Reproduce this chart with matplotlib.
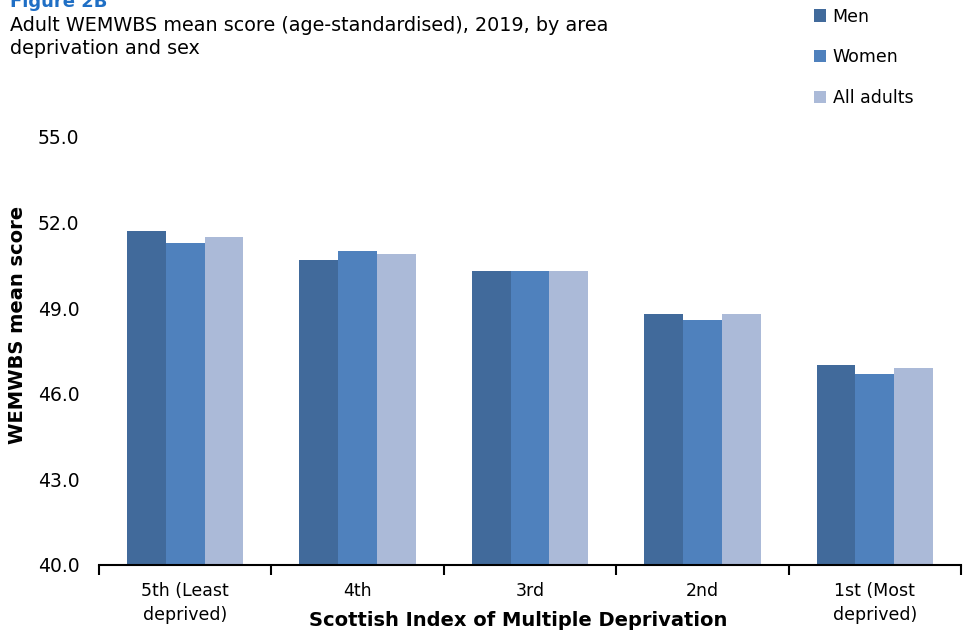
import matplotlib.pyplot as plt
import numpy as np

categories = ['5th (Least\ndeprived)', '4th', '3rd', '2nd', '1st (Most\ndeprived)']
series = ['Men', 'Women', 'All adults']
men = [51.7, 50.7, 50.3, 48.8, 47.0]
women = [51.3, 51.0, 50.3, 48.6, 46.7]
all_adults = [51.5, 50.9, 50.3, 48.8, 46.9]
colors = ['#416a9b', '#4f81bd', '#abbad8']

plt.rcParams['font.family'] = ['DejaVu Sans']

fig = plt.figure(figsize=(9.64, 6.33), dpi=100)
ax = fig.add_axes([99/964, 1 - 565/633, 862/964, 428/633])

x = np.arange(len(categories))
w = 0.225
for i, (vals, name) in enumerate(zip([men, women, all_adults], series)):
    ax.bar(x + (i - 1) * w, vals, width=w, color=colors[i], label=name)

ax.set_xlim(-0.5, len(categories) - 0.5)
ax.set_ylim(40, 55)
ax.set_yticks([40, 43, 46, 49, 52, 55])
ax.set_yticklabels([f'{v:.1f}' for v in [40, 43, 46, 49, 52, 55]], fontsize=13.5)
ax.tick_params(axis='y', length=0, pad=14)

ax.set_xticks(x)
ax.set_xticklabels(categories, fontsize=12.5, linespacing=1.45)
ax.tick_params(axis='x', length=0, pad=12)
ax.set_xticks(np.arange(-0.5, len(categories)), minor=True)
ax.tick_params(axis='x', which='minor', length=7, width=1.5, direction='out')

for s in ['top', 'right', 'left']:
    ax.spines[s].set_visible(False)
ax.spines['bottom'].set_linewidth(1.5)

ax.set_ylabel('WEMWBS mean score', fontsize=14, fontweight='bold')
ax.yaxis.set_label_coords(-72/862, 0.56)
fig.text(518/964, 1 - 620/633, 'Scottish Index of Multiple Deprivation',
         fontsize=14, fontweight='bold', ha='center', va='center')

fig.text(10/964, 1 - 2/633, 'Figure 2B', fontsize=13, fontweight='bold',
         color='#1f6fc5', ha='left', va='center')
fig.text(10/964, 1 - 37/633,
         'Adult WEMWBS mean score (age-standardised), 2019, by area\ndeprivation and sex',
         fontsize=13.8, ha='left', va='center', linespacing=1.25)

fig.legend(loc='upper left', bbox_to_anchor=(798/964, 1 + 8/633), frameon=False,
           fontsize=12.5, handlelength=0.7, handleheight=0.7, handletextpad=0.4,
           labelspacing=1.3)

fig.savefig('out.png', dpi=100)
